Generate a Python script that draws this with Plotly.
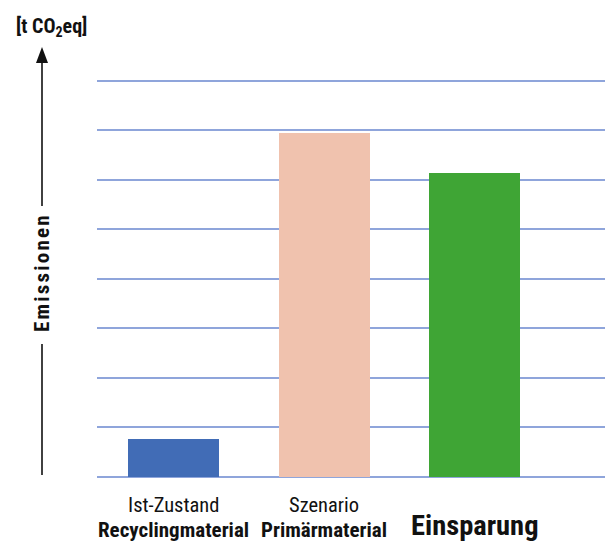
import plotly.graph_objects as go

# Emissions per case, in gridline units
categories = ["Ist-Zustand", "Szenario", "Einsparung"]
subtitles = ["Recyclingmaterial", "Primärmaterial", ""]
values = [0.76, 6.94, 6.13]
colors = ["#416CB6", "#F0C2AE", "#3FA535"]
y_ticks = [0, 1, 2, 3, 4, 5, 6, 7, 8]

FONT = "Roboto Condensed, Liberation Sans Narrow, DejaVu Sans Condensed, sans-serif"
W, H = 605, 542
ML, MR, MT, MB = 97, 0, 78, 65
PW, PH = W - ML - MR, H - MT - MB
UNIT = 49.55  # pixels per gridline step


def px_x(p):
    return (p - ML) / PW


def px_y(p):
    return (H - MB - p) / PH


xs = list(range(len(categories)))

fig = go.Figure(
    go.Bar(
        x=xs,
        y=values,
        width=0.605,
        marker=dict(color=colors, line=dict(width=0)),
        hoverinfo="skip",
    )
)

annotations = []
for i, (cat, sub) in enumerate(zip(categories, subtitles)):
    if sub:
        annotations.append(dict(x=i, xref="x", y=px_y(505), yref="paper", text=cat,
                                showarrow=False, font=dict(size=20.5, color="#111111", family=FONT),
                                xanchor="center", yanchor="middle"))
        annotations.append(dict(x=i, xref="x", y=px_y(530), yref="paper", text="<b>" + sub + "</b>",
                                showarrow=False, font=dict(size=21, color="#111111", family=FONT),
                                xanchor="center", yanchor="middle"))
    else:
        annotations.append(dict(x=i, xref="x", y=px_y(525), yref="paper", text="<b>" + cat + "</b>",
                                showarrow=False, font=dict(size=28.5, color="#111111", family=FONT),
                                xanchor="center", yanchor="middle"))

# unit label and axis caption
annotations.append(dict(x=px_x(51), xref="paper", y=px_y(27), yref="paper",
                        text="<b>[t CO<sub>2</sub>eq]</b>", showarrow=False,
                        font=dict(size=20, color="#111111", family=FONT),
                        xanchor="center", yanchor="middle"))
annotations.append(dict(x=px_x(42), xref="paper", y=px_y(274), yref="paper",
                        text="<b>E\u200am\u200ai\u200as\u200as\u200ai\u200ao\u200an\u200ae\u200an</b>",
                        showarrow=False, textangle=-90,
                        font=dict(size=21, color="#111111", family=FONT),
                        xanchor="center", yanchor="middle"))

ax_x = px_x(42)
shapes = [
    dict(type="line", xref="paper", yref="paper", x0=ax_x, x1=ax_x, y0=px_y(206), y1=px_y(60),
         line=dict(color="#111111", width=1.6)),
    dict(type="line", xref="paper", yref="paper", x0=ax_x, x1=ax_x, y0=px_y(344), y1=px_y(475),
         line=dict(color="#111111", width=1.6)),
    dict(type="path", xref="paper", yref="paper",
         path=f"M {ax_x},{px_y(47)} L {px_x(36)},{px_y(63)} L {px_x(48)},{px_y(63)} Z",
         fillcolor="#111111", line=dict(color="#111111", width=0)),
]

fig.update_layout(
    width=W, height=H,
    margin=dict(l=ML, r=MR, t=MT, b=MB, pad=0),
    paper_bgcolor="white", plot_bgcolor="white",
    showlegend=False,
    annotations=annotations,
    shapes=shapes,
    bargap=0,
    xaxis=dict(range=[-0.51, 2.865], showticklabels=False, showgrid=False, zeroline=False,
               showline=False, ticks="", fixedrange=True),
    yaxis=dict(range=[0, PH / UNIT], tickvals=y_ticks, showticklabels=False, showgrid=True,
               gridcolor="#8FA5DB", gridwidth=1.5, zeroline=True, zerolinecolor="#8FA5DB",
               zerolinewidth=1.5, showline=False, ticks="", fixedrange=True),
)

fig.write_html("out.html", config={"displayModeBar": False})
